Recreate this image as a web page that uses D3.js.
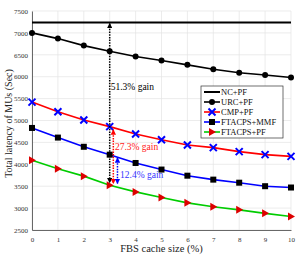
<!DOCTYPE html>
<html>
  <head>
    <meta charset="UTF-8" />
    <style>
      body { margin: 0; background: #fff; }
      text { font-family: "Liberation Serif", "DejaVu Serif", serif; }
    </style>
  </head>
  <body>
    <svg width="298" height="257"></svg>
    <script src="https://cdn.jsdelivr.net/npm/d3@7"></script>
    <script>
      // data
      const cacheSize = [0, 1, 2, 3, 4, 5, 6, 7, 8, 9, 10];
      const ncPf = [7240, 7240, 7240, 7240, 7240, 7240, 7240, 7240, 7240, 7240, 7240];
      const urcPf = [7000, 6870, 6710, 6580, 6460, 6370, 6270, 6170, 6090, 6040, 5980];
      const cmpPf = [5420, 5200, 5010, 4860, 4690, 4560, 4440, 4380, 4290, 4220, 4180];
      const ftacpsMmf = [4830, 4610, 4400, 4220, 4030, 3880, 3740, 3650, 3580, 3500, 3470];
      const ftacpsPf = [4090, 3900, 3730, 3520, 3370, 3240, 3120, 3030, 2960, 2880, 2810];
      const yTicks = [2500, 3000, 3500, 4000, 4500, 5000, 5500, 6000, 6500, 7000, 7500];

      const series = [
        { name: "NC+PF", v: ncPf, color: "#000", marker: null, w: 2 },
        { name: "URC+PF", v: urcPf, color: "#000", marker: "circle", mc: "#000", w: 1.6 },
        { name: "CMP+PF", v: cmpPf, color: "#ff0000", marker: "x", mc: "#0000ff", w: 1.6 },
        { name: "FTACPS+MMF", v: ftacpsMmf, color: "#0000ff", marker: "square", mc: "#000", w: 1.6 },
        { name: "FTACPS+PF", v: ftacpsPf, color: "#00cc00", marker: "tri", mc: "#dd0000", w: 1.6 }
      ];

      const svg = d3.select("svg");
      const L = 32, R = 291, T = 11, B = 230;
      const x = d3.scaleLinear().domain([0, 10]).range([L, R]);
      const y = d3.scaleLinear().domain([2500, 7500]).range([B, T]);

      // grid
      svg.append("g").selectAll("line").data(cacheSize).enter().append("line")
        .attr("x1", (d) => x(d)).attr("x2", (d) => x(d))
        .attr("y1", T).attr("y2", B)
        .attr("stroke", "#e4e4e4").attr("stroke-width", 0.7);
      svg.append("g").selectAll("line").data(yTicks).enter().append("line")
        .attr("x1", L).attr("x2", R)
        .attr("y1", (d) => y(d)).attr("y2", (d) => y(d))
        .attr("stroke", "#e4e4e4").attr("stroke-width", 0.7);

      // axes
      const xAxis = svg.append("g").attr("transform", `translate(0,${B})`)
        .call(d3.axisBottom(x).tickValues(cacheSize).tickSize(0).tickPadding(7).tickFormat(d3.format("d")));
      const yAxis = svg.append("g").attr("transform", `translate(${L},0)`)
        .call(d3.axisLeft(y).tickValues(yTicks).tickSize(0).tickPadding(4).tickFormat(d3.format("d")));
      [xAxis, yAxis].forEach((a) => {
        a.select(".domain").attr("stroke", "#444").attr("stroke-width", 0.8);
        a.selectAll("text").attr("font-size", "7px").attr("fill", "#333")
          .attr("font-family", "Liberation Serif");
      });

      svg.append("text").attr("x", (L + R) / 2).attr("y", 252)
        .attr("text-anchor", "middle").attr("font-size", "10.5px").attr("fill", "#222")
        .text("FBS cache size (%)");
      svg.append("text")
        .attr("transform", `translate(12,${(T + B) / 2 + 3}) rotate(-90)`)
        .attr("text-anchor", "middle").attr("font-size", "10px").attr("fill", "#222")
        .text("Total latency of MUs (Sec)");

      // markers
      function drawMarker(g, type, cx, cy, col) {
        if (type === "circle") {
          g.append("circle").attr("cx", cx).attr("cy", cy).attr("r", 3).attr("fill", col);
        } else if (type === "square") {
          g.append("rect").attr("x", cx - 3).attr("y", cy - 3).attr("width", 6).attr("height", 6).attr("fill", col);
        } else if (type === "x") {
          g.append("path").attr("d", `M${cx - 3.5},${cy - 3.5}L${cx + 3.5},${cy + 3.5}M${cx - 3.5},${cy + 3.5}L${cx + 3.5},${cy - 3.5}`)
            .attr("stroke", col).attr("stroke-width", 2);
        } else if (type === "tri") {
          g.append("path").attr("d", `M${cx - 3},${cy - 4}L${cx + 4},${cy}L${cx - 3},${cy + 4}Z`).attr("fill", col);
        }
      }

      const line = d3.line().x((d, i) => x(cacheSize[i])).y((d) => y(d));
      series.forEach((s) => {
        svg.append("path").datum(s.v).attr("d", line)
          .attr("fill", "none").attr("stroke", s.color).attr("stroke-width", s.w);
        if (s.marker) {
          const g = svg.append("g");
          s.v.forEach((v, i) => drawMarker(g, s.marker, x(cacheSize[i]), y(v), s.mc));
        }
      });

      // gain arrows
      svg.append("defs").selectAll("marker").data(["#000", "#ff0000", "#0000ff"]).enter()
        .append("marker")
        .attr("id", (d, i) => "ah" + i)
        .attr("viewBox", "0 0 10 10").attr("refX", 9).attr("refY", 5)
        .attr("markerWidth", 3.6).attr("markerHeight", 3.6)
        .attr("orient", "auto-start-reverse")
        .append("path").attr("d", "M0,0L10,5L0,10Z").attr("fill", (d) => d);

      const arrows = [
        { xv: 3, top: ncPf[3], bot: 3580, color: "#000", id: 0 },
        { xv: 3.14, top: cmpPf[3] - 50, bot: 3560, color: "#ff0000", id: 1 },
        { xv: 3.3, top: ftacpsMmf[3] - 50, bot: 3560, color: "#0000ff", id: 2 }
      ];
      arrows.forEach((a) => {
        svg.append("line")
          .attr("x1", x(a.xv)).attr("x2", x(a.xv))
          .attr("y1", y(a.top) + 1).attr("y2", y(a.bot))
          .attr("stroke", a.color).attr("stroke-width", 1.5)
          .attr("stroke-dasharray", "1.5,1.2")
          .attr("marker-start", `url(#ah${a.id})`)
          .attr("marker-end", `url(#ah${a.id})`);
      });

      const gains = [
        { t: "51.3% gain", xv: 3.04, yv: 5765, c: "#000" },
        { t: "27.3% gain", xv: 3.2, yv: 4395, c: "#ff2020" },
        { t: "12.4% gain", xv: 3.4, yv: 3756, c: "#3333ff" }
      ];
      svg.selectAll(".gain").data(gains).enter().append("text")
        .attr("class", "gain")
        .attr("x", (d) => x(d.xv)).attr("y", (d) => y(d.yv) + 3)
        .attr("font-size", "9.5px").attr("fill", (d) => d.c)
        .text((d) => d.t);

      // legend
      const lg = svg.append("g").attr("transform", "translate(201,86)");
      lg.append("rect").attr("width", 82).attr("height", 52)
        .attr("fill", "#fff").attr("stroke", "#333").attr("stroke-width", 0.7);
      series.forEach((s, i) => {
        const cy = 6 + i * 10;
        lg.append("line").attr("x1", 3).attr("x2", 19).attr("y1", cy).attr("y2", cy)
          .attr("stroke", s.color).attr("stroke-width", s.w);
        if (s.marker) drawMarker(lg, s.marker, 11, cy, s.mc);
        lg.append("text").attr("x", 20).attr("y", cy + 3)
          .attr("font-size", "8.5px").attr("fill", "#111").text(s.name);
      });
    </script>
  </body>
</html>
